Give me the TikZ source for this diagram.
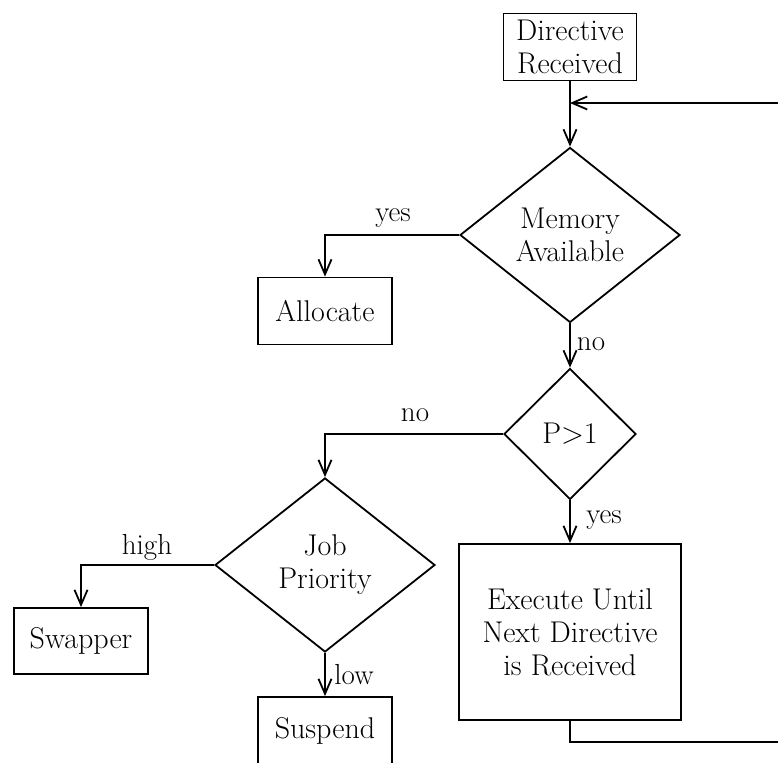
\documentclass[tikz,border=0pt]{standalone}
\usetikzlibrary{shapes.geometric,arrows.meta}
\begin{document}
\begin{tikzpicture}[x=1pt,y=-1pt,line width=1.8pt,
  box/.style={draw,rectangle,fill=white,inner sep=0pt,align=center,font=\fontsize{30}{33}\selectfont},
  dec/.style={draw,diamond,inner sep=0pt,shape aspect=1.25,align=center,font=\fontsize{30}{33}\selectfont},
  lbl/.style={inner sep=0pt,font=\fontsize{29}{32}\selectfont},
  arr/.style={-{Straight Barb[length=15pt,width=13pt]}}]
\useasboundingbox (0,0) rectangle (778,762);
\clip (0,0) rectangle (778,762);
% nodes
\node[box,minimum width=133pt,minimum height=67pt] (dir) at (570,47) {Directive\\Received};
\node[dec,minimum width=220pt,minimum height=175pt] (mem) at (570,235) {Memory\\Available};
\node[box,minimum width=134pt,minimum height=67pt] (alloc) at (325,311) {Allocate};
\node[dec,minimum width=132pt,minimum height=131pt] (p) at (570,434) {P>1};
\node[dec,minimum width=220pt,minimum height=174pt] (job) at (325,565) {Job\\Priority};
\node[box,minimum width=222pt,minimum height=176pt] (exec) at (570,632) {Execute Until\\Next Directive\\is Received};
\node[box,minimum width=134pt,minimum height=66pt] (swap) at (81,641) {Swapper};
\node[box,minimum width=134pt,minimum height=67pt] (susp) at (325,730.5) {Suspend};
% labels
\node[lbl] (lyes1) at (393,218) {yes};
\node[lbl] (lno1) at (591,344) {no};
\node[lbl] (lno2) at (415,415) {no};
\node[lbl] (lyes2) at (604,520) {yes};
\node[lbl] (lhigh) at (147,547) {high};
\node[lbl] (llow) at (354,675) {low};
% connectors
\coordinate (jn) at (570,103);
\coordinate (rb) at (800,742);
\coordinate (rt) at (800,103);
\draw[arr] (dir.south) -- (mem.north);
\draw[arr] (mem.west) -| (alloc.north);
\draw[arr] (mem.south) -- (p.north);
\draw[arr] (p.west) -| (job.north);
\draw[arr] (p.south) -- (exec.north);
\draw[arr] (job.west) -| (swap.north);
\draw[arr] (job.south) -- (susp.north);
\draw[arr] (exec.south) |- (rb) -- (rt) -- (jn);
\end{tikzpicture}
\end{document}
